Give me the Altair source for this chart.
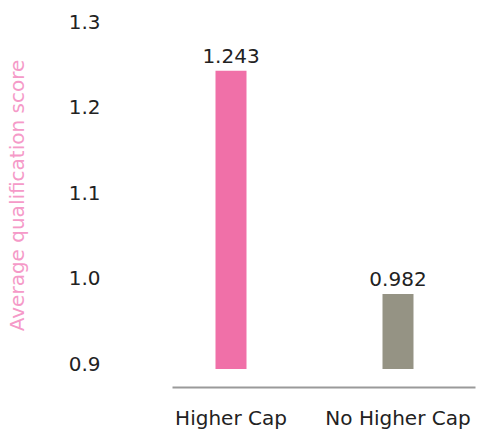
import altair as alt
import pandas as pd

# Average qualification score by cap group
groups = ["Higher Cap", "No Higher Cap"]
scores = [1.243, 0.982]
bar_colors = ["#f070a8", "#959384"]
y_ticks = [0.9, 1.0, 1.1, 1.2, 1.3]

# Value axis range: bars rise from the floor of the axis
Y_MIN, Y_MAX = 0.8945, 1.3

df = pd.DataFrame({"group": groups, "score": scores})

FONT = "DejaVu Sans"
TEXT = "#222222"

x_enc = alt.X(
    "group:N",
    sort=groups,
    scale=alt.Scale(paddingInner=0.5, paddingOuter=0.1572, align=0.3286),
    axis=alt.Axis(
        title=None,
        labelAngle=0,
        labelFontSize=20,
        labelFont=FONT,
        labelColor=TEXT,
        labelPadding=21,
        ticks=False,
        domainColor="#9a9a9a",
        domainWidth=2,
        offset=18,
    ),
)

y_enc = alt.Y(
    "score:Q",
    scale=alt.Scale(domain=[Y_MIN, Y_MAX], nice=False, zero=False),
    axis=alt.Axis(
        title="Average qualification score",
        titleColor="#f59ac8",
        titleFont=FONT,
        titleFontSize=20,
        titleFontWeight="normal",
        titleX=-155,
        titleY=173,
        titleBaseline="middle",
        values=y_ticks,
        format=".1f",
        labelFontSize=20,
        labelFont=FONT,
        labelColor=TEXT,
        labelPadding=72,
        labelBaseline="middle",
        ticks=False,
        domain=False,
        grid=False,
    ),
)

bars = alt.Chart(df).mark_bar(size=31).encode(
    x=x_enc,
    y=y_enc,
    y2=alt.datum(Y_MIN),
    color=alt.Color("group:N", scale=alt.Scale(domain=groups, range=bar_colors), legend=None),
)

labels = alt.Chart(df).mark_text(
    baseline="alphabetic", dy=-8, fontSize=20, font=FONT, color=TEXT
).encode(
    x=alt.X("group:N", sort=groups),
    y="score:Q",
    text=alt.Text("score:Q", format=".3f"),
)

chart = (
    alt.layer(bars, labels)
    .properties(
        width=303,
        height=347,
        background="white",
        autosize=alt.AutoSizeParams(type="none"),
        padding={"left": 172, "top": 22, "right": 4, "bottom": 61},
    )
    .configure_view(stroke="transparent", strokeWidth=0)
)

chart.save("out.html", embed_options={"renderer": "svg", "actions": False})
